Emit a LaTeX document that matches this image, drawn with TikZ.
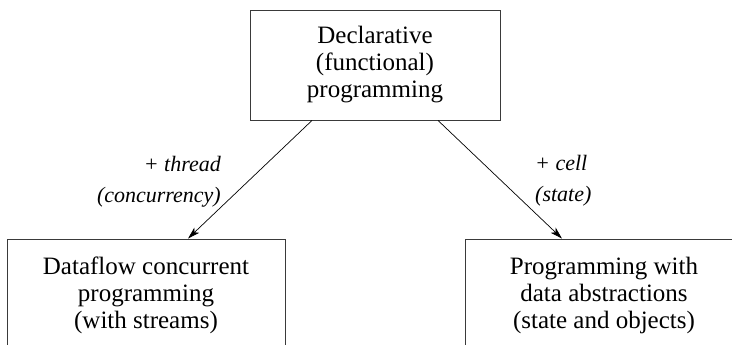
\documentclass[tikz,border=0pt]{standalone}
\usepackage{fontspec}
\setmainfont{Liberation Serif}
\newfontfamily\paperfont{Liberation Serif}
\definecolor{boxline}{HTML}{3A3A3A}
\usetikzlibrary{arrows.meta}

\begin{document}
\begin{tikzpicture}[x=1pt,y=-1pt,
  paradigm/.style={draw=boxline,line width=0.9pt,rectangle,align=center,inner sep=0pt,
    font=\paperfont\fontsize{25}{27}\selectfont},
  addlabel/.style={inner sep=0pt,font=\paperfont\fontsize{22}{31}\selectfont\itshape},
  extend/.style={-{Stealth[length=12pt,width=7pt,inset=3pt]},line width=0.7pt}]
  \useasboundingbox (0,0) rectangle (732,345);
  \clip (0,0) rectangle (732,345);

  % Declarative (top)
  \node[paradigm,minimum width=250pt,minimum height=110pt] (decl) at (375,65)
    {Declarative\\(functional)\\programming};

  % Dataflow (left) and data abstractions (right)
  \node[paradigm,minimum width=278pt,minimum height=112pt] (dataflow) at (146,295)
    {Dataflow concurrent\\programming\\(with streams)};
  \node[paradigm,minimum width=278pt,minimum height=112pt] (dataabs) at (604,295)
    {Programming with\\data abstractions\\(state and objects)};

  % What is added
  \draw[extend] ([xshift=-63pt]decl.south) -- ([xshift=42pt]dataflow.north);
  \draw[extend] ([xshift=63pt]decl.south) -- ([xshift=-42pt]dataabs.north);
  \node[addlabel,align=right,anchor=east] (thread) at (221,181.5) {+ thread\\(concurrency)};
  \node[addlabel,align=left,anchor=west] (cell) at (535,180.5) {+ cell\\(state)};
\end{tikzpicture}
\end{document}
